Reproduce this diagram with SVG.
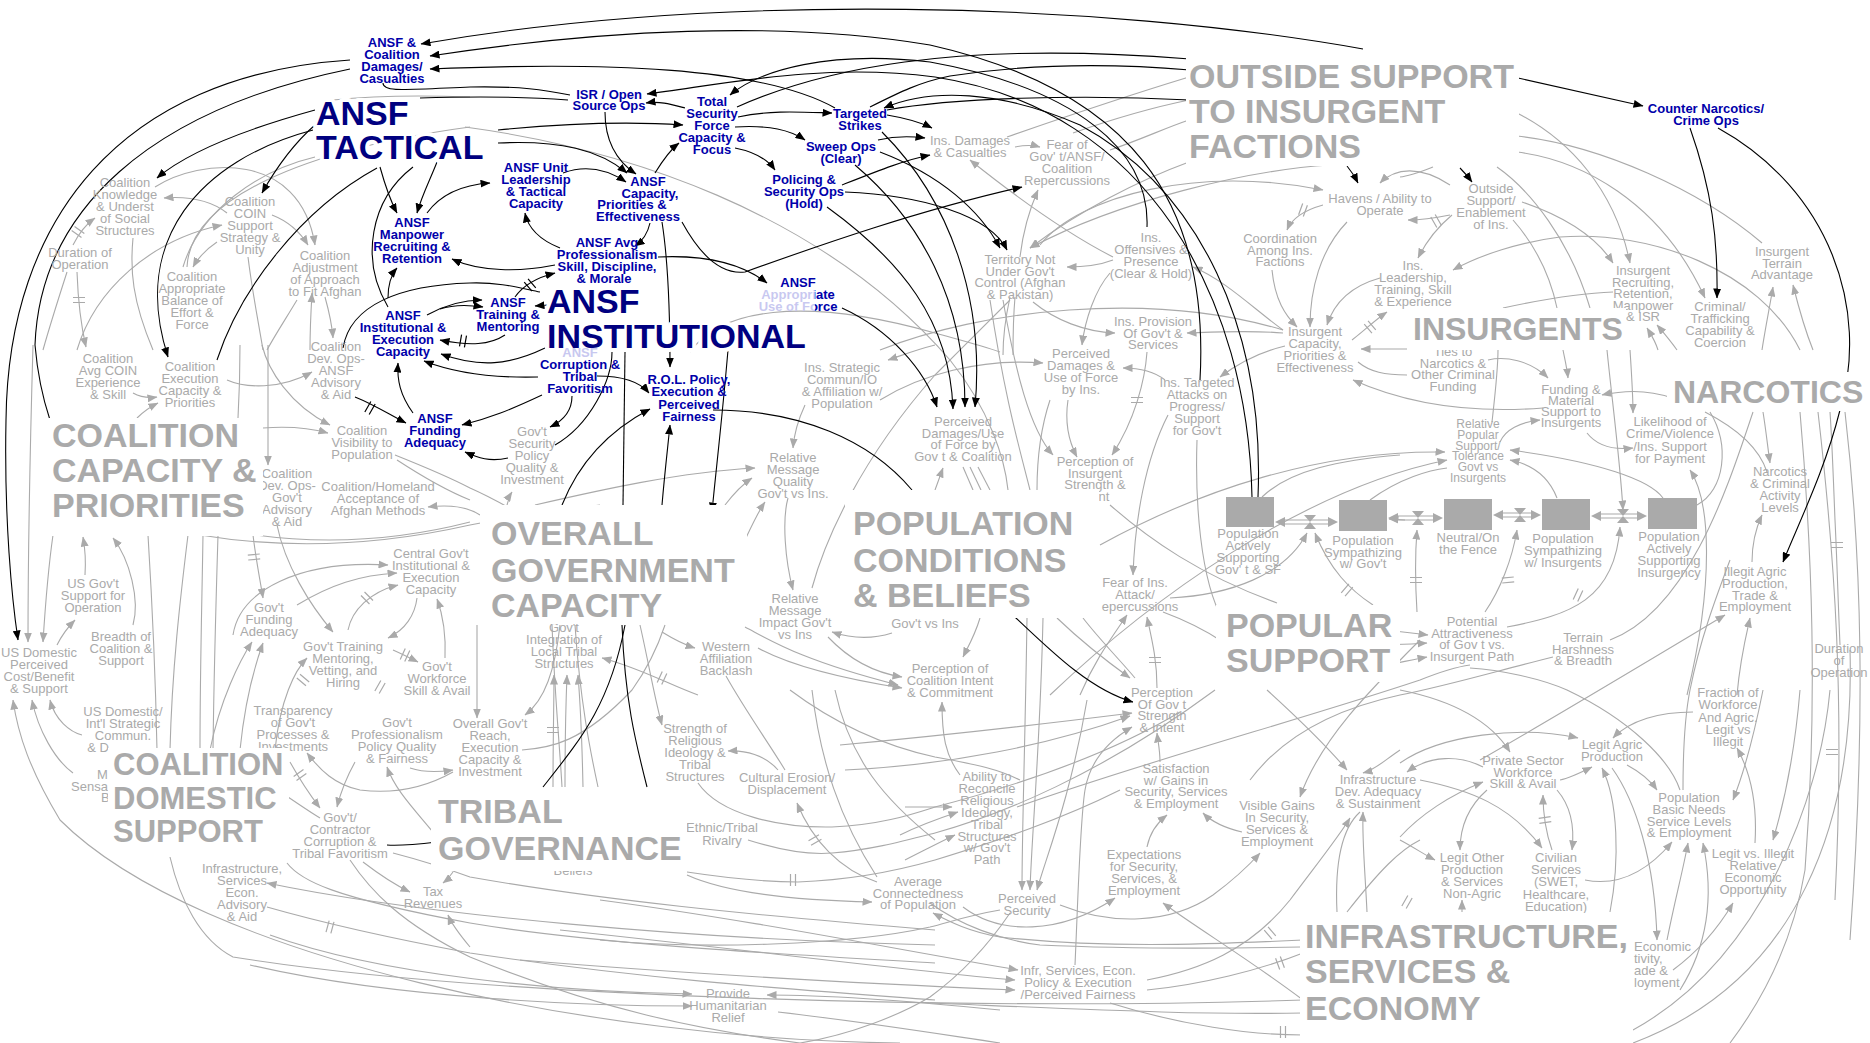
<svg xmlns="http://www.w3.org/2000/svg" width="1870" height="1043" viewBox="0 0 1870 1043">
<style>
.k{fill:none;stroke:#000;stroke-width:1.1}
.s{fill:none;stroke:#aaa;stroke-width:1.1}
.ka{marker-end:url(#ak)}
.ga{marker-end:url(#ag)}
.h{fill:none;stroke:#aaa;stroke-width:1.2}
.hk{fill:none;stroke:#000;stroke-width:1.2}
text.b{font-family:"Liberation Sans",Arial,sans-serif;font-weight:bold;font-size:13px;fill:#0000aa;text-anchor:middle}
text.g{font-family:"Liberation Sans",Arial,sans-serif;font-size:13px;fill:#aaa;text-anchor:middle}
text.gs{font-family:"Liberation Sans",Arial,sans-serif;font-size:13px;fill:#aaa;text-anchor:start}
text.tb{font-family:"Liberation Sans",Arial,sans-serif;font-weight:bold;font-size:34px;fill:#000080;stroke:#fff;stroke-width:8;stroke-linejoin:round;paint-order:stroke}
text.tg{font-family:"Liberation Sans",Arial,sans-serif;font-weight:bold;font-size:34px;fill:#aaa}
.box{fill:#fff}
.stock{fill:#aaa}
.pipe{fill:none;stroke:#aaa;stroke-width:1.1}
.tri{fill:#aaa}
</style>
<defs>
<marker id="ak" viewBox="0 0 10 8" refX="9.5" refY="4" markerWidth="10" markerHeight="8" markerUnits="userSpaceOnUse" orient="auto"><path d="M0,0 L10,4 L0,8 z" fill="#000"/></marker>
<marker id="ag" viewBox="0 0 10 8" refX="9.5" refY="4" markerWidth="10" markerHeight="8" markerUnits="userSpaceOnUse" orient="auto"><path d="M0,0 L10,4 L0,8 z" fill="#aaa"/></marker>
<path id="hs" d="M-2.5,-6 L-2.5,6 M2.5,-6 L2.5,6"/>
<linearGradient id="fade" gradientUnits="userSpaceOnUse" x1="760" y1="0" x2="840" y2="0">
<stop offset="0" stop-color="#c8c8f0"/><stop offset="0.68" stop-color="#c8c8f0"/><stop offset="0.69" stop-color="#0000aa"/><stop offset="1" stop-color="#0000aa"/>
</linearGradient>
</defs>
<rect width="1870" height="1043" fill="#fff"/>

<g id="connectors">
<path class="s ga" d="M227,213 C210,200 190,196 164,198"/>
<path class="s ga" d="M73,245 C78,235 85,225 95,218"/>
<path class="s ga" d="M77,272 C78,300 82,330 86,347"/>
<path class="s ga" d="M155,187 C200,158 300,150 315,245"/>
<path class="s ga" d="M272,215 C290,222 300,232 308,245"/>
<path class="s ga" d="M217,242 C205,250 198,258 193,267"/>
<path class="s ga" d="M77,350 C95,290 150,240 222,225"/>
<path class="s" d="M133,238 C130,270 132,300 153,350"/>
<path class="s" d="M248,257 C252,290 258,320 263,350"/>
<path class="s" d="M187,267 C190,200 300,150 470,127"/>
<path class="s" d="M315,157 C260,170 200,210 183,267"/>
<path class="s ga" d="M325,297 C330,315 332,325 333,338"/>
<path class="s ga" d="M310,350 C310,330 311,310 312,293"/>
<path class="s" d="M297,300 C285,320 275,335 267,350"/>
<path class="s" d="M333,100 C380,95 420,95 470,97"/>
<path class="s" d="M67,272 C58,300 50,325 43,350"/>
<path class="s" d="M465,127 C620,148 820,210 950,360 C990,410 1005,460 1008,490"/>
<path class="s" d="M690,352 C720,310 800,295 935,333 C960,340 980,345 1000,352"/>
<path class="s ga" d="M133,393 C142,398 150,398 157,397"/>
<path class="s ga" d="M137,418 C143,412 150,407 158,403"/>
<path class="s ga" d="M227,380 C245,388 280,390 312,372"/>
<path class="s ga" d="M263,428 C290,426 310,428 328,433"/>
<path class="s ga" d="M262,345 C268,370 290,405 330,425"/>
<path class="s ga" d="M268,345 L268,465"/>
<path class="s" d="M395,455 C420,465 445,475 470,488 C520,510 560,540 600,560"/>
<path class="s" d="M397,460 C420,475 445,490 470,500"/>
<path class="s ga" d="M480,515 C465,505 445,505 428,507"/>
<path class="s ga" d="M277,525 C285,565 310,605 333,632"/>
<path class="s ga" d="M253,535 C256,560 260,580 263,598"/>
<path class="s ga" d="M297,605 C330,585 360,575 397,573"/>
<path class="s ga" d="M233,635 C240,590 300,560 388,565"/>
<path class="s ga" d="M348,630 C352,610 370,592 398,585"/>
<path class="s ga" d="M417,598 C415,615 405,630 388,638"/>
<path class="s ga" d="M445,658 C446,635 443,615 437,599"/>
<path class="s ga" d="M393,650 C402,654 410,658 418,662"/>
<path class="s" d="M200,535 C260,545 350,552 470,525 C520,515 560,510 600,505"/>
<path class="s" d="M255,535 C330,545 400,540 470,522"/>
<path class="s ga" d="M85,575 C86,560 85,548 83,537"/>
<path class="s ga" d="M133,625 C140,600 130,560 113,538"/>
<path class="s ga" d="M57,645 C62,635 68,627 75,620"/>
<path class="s ga" d="M53,535 C48,570 45,610 43,642"/>
<path class="s ga" d="M33,345 C30,450 28,560 28,642"/>
<path class="s" d="M148,535 C152,600 155,650 157,750"/>
<path class="s" d="M188,535 C180,600 172,670 170,750"/>
<path class="s" d="M203,535 C202,600 200,670 200,750"/>
<path class="s" d="M218,535 C216,600 214,670 213,750"/>
<path class="s" d="M240,345 C240,380 239,400 238,418"/>
<path class="s ga" d="M210,750 C220,700 240,660 252,642"/>
<path class="s ga" d="M240,750 C245,700 255,665 263,643"/>
<path class="s ga" d="M275,750 C280,700 295,670 307,658"/>
<path class="s ga" d="M82,735 C70,732 55,720 50,700"/>
<path class="s ga" d="M73,773 C55,760 38,730 32,700"/>
<path class="s ga" d="M900,1043 C600,1040 200,960 60,820 C30,770 18,735 13,700"/>
<path class="s" d="M1303,1000 C1000,1010 500,1000 233,957 C200,940 180,900 170,857"/>
<path class="s ga" d="M453,772 C430,785 400,795 360,790 C335,785 320,770 307,753"/>
<path class="s ga" d="M410,768 C425,773 440,772 453,770"/>
<path class="s ga" d="M355,762 C345,780 340,795 337,807"/>
<path class="s ga" d="M290,762 C300,780 310,795 320,808"/>
<path class="s ga" d="M437,837 C415,810 395,790 387,767"/>
<path class="s ga" d="M363,862 C380,875 395,885 410,892"/>
<path class="s ga" d="M470,947 C460,935 452,925 448,915"/>
<path class="s ga" d="M453,872 C450,876 447,880 443,883"/>
<path class="s" d="M393,853 C420,860 445,868 470,877 C600,900 750,915 935,930"/>
<path class="s ga" d="M935,945 C700,940 420,915 267,883"/>
<path class="s" d="M267,907 C330,925 400,940 470,953 C650,980 800,990 935,1000"/>
<path class="s" d="M350,860 C370,890 400,923 470,957 C600,1010 700,1030 800,1043"/>
<path class="s" d="M287,863 C300,880 330,897 470,923 C600,945 800,955 935,963"/>
<path class="s" d="M288,797 C300,805 310,812 320,818"/>
<path class="s ga" d="M477,625 C477,660 477,690 477,718"/>
<path class="s ga" d="M560,625 C555,670 545,700 525,715"/>
<path class="s" d="M522,750 C550,748 582,743 632,690 C650,665 660,640 665,625"/>
<path class="s ga" d="M778,770 C765,755 745,750 728,751"/>
<path class="s" d="M698,783 C720,815 780,828 832,827 C880,825 910,815 935,807 C1000,790 1100,760 1180,712"/>
<path class="s ga" d="M877,882 C840,870 812,840 797,803"/>
<path class="s" d="M748,840 C780,850 810,855 832,853 C870,850 900,842 935,833 C1000,815 1100,775 1215,690"/>
<path class="s" d="M687,872 C740,880 780,882 798,882 C850,880 900,870 935,860 C1000,840 1060,820 1120,790"/>
<path class="s ga" d="M687,875 C720,890 780,900 872,902"/>
<path class="s ga" d="M640,625 C648,660 655,700 662,725"/>
<path class="s" d="M726,676 C745,710 770,745 785,770"/>
<path class="s ga" d="M270,935 C380,975 560,992 692,994"/>
<path class="s ga" d="M250,965 C400,1000 600,1006 692,1006"/>
<path class="s ga" d="M1000,1010 C900,1000 820,995 767,995"/>
<path class="s" d="M778,1012 C850,1020 900,1028 1000,1043"/>
<path class="s ga" d="M840,745 C950,735 1060,722 1132,713"/>
<path class="s ga" d="M845,770 C950,765 1050,745 1130,716"/>
<path class="s ga" d="M1160,762 C1160,750 1158,742 1157,733"/>
<path class="s ga" d="M1147,847 C1150,832 1158,822 1167,815"/>
<path class="s ga" d="M1242,832 C1225,828 1212,822 1203,813"/>
<path class="s ga" d="M1420,640 C1370,690 1320,740 1300,797"/>
<path class="s ga" d="M1060,905 C1110,925 1170,925 1213,895 C1240,875 1252,862 1260,853"/>
<path class="s ga" d="M963,907 C1000,935 1060,935 1115,898"/>
<path class="s ga" d="M905,807 C920,807 940,807 952,807"/>
<path class="s ga" d="M900,835 C920,825 940,818 958,812"/>
<path class="s ga" d="M905,860 C925,850 940,842 955,835"/>
<path class="s ga" d="M960,775 C945,755 942,735 942,702"/>
<path class="s" d="M1017,807 C1150,760 1300,720 1420,680 C1440,672 1455,667 1470,665"/>
<path class="s ga" d="M1027,618 C1025,750 1022,830 1022,890"/>
<path class="s ga" d="M1043,618 C1040,750 1032,830 1030,890"/>
<path class="s ga" d="M1087,700 C1070,800 1045,860 1037,890"/>
<path class="s" d="M1010,913 C985,950 960,975 930,997 C900,1015 850,1035 800,1043"/>
<path class="s" d="M1000,910 C970,915 950,922 930,927 C850,945 700,950 600,940"/>
<path class="s ga" d="M600,900 C750,920 900,950 1018,970"/>
<path class="s ga" d="M560,930 C750,950 900,970 1015,980"/>
<path class="s ga" d="M520,960 C700,975 900,985 1015,990"/>
<path class="s ga" d="M1075,965 C1078,900 1080,820 1085,790 C1090,760 1110,740 1132,727"/>
<path class="s ga" d="M1147,980 C1200,970 1250,950 1290,900 C1320,860 1340,835 1350,818"/>
<path class="s" d="M1147,990 C1200,985 1260,970 1303,953"/>
<path class="s ga" d="M1303,1000 C1250,960 1200,930 1163,903"/>
<path class="s" d="M930,903 C960,925 1000,940 1040,945 C1150,950 1250,948 1303,947"/>
<path class="s ga" d="M1303,940 C1200,945 1100,948 1000,937 C970,932 950,922 933,913"/>
<path class="s" d="M930,1003 C1100,1010 1200,1015 1303,1013"/>
<path class="s" d="M1110,1003 C1180,1025 1250,1035 1303,1035"/>
<path class="s" d="M1337,912 C1335,870 1340,830 1360,812"/>
<path class="s" d="M1347,912 C1380,870 1400,850 1420,840"/>
<path class="s ga" d="M1367,912 C1365,870 1362,840 1363,812"/>
<path class="s ga" d="M1267,690 C1300,720 1330,750 1347,770"/>
<path class="s ga" d="M1400,750 C1385,760 1375,770 1363,773"/>
<path class="s ga" d="M1400,690 C1450,700 1490,720 1510,752"/>
<path class="s ga" d="M1483,767 C1460,755 1430,755 1407,772"/>
<path class="s ga" d="M1400,837 C1420,815 1450,795 1483,782"/>
<path class="s ga" d="M1560,780 C1570,778 1582,772 1592,767"/>
<path class="s ga" d="M1487,790 C1470,805 1460,825 1460,850"/>
<path class="s ga" d="M1557,790 C1570,805 1575,825 1572,850"/>
<path class="s ga" d="M1552,850 C1545,830 1543,810 1543,795"/>
<path class="s ga" d="M1420,780 C1470,790 1510,805 1542,848"/>
<path class="s ga" d="M1400,840 C1415,848 1425,855 1435,860"/>
<path class="s ga" d="M1585,880 C1610,885 1640,880 1672,842"/>
<path class="s ga" d="M1627,765 C1640,772 1650,780 1657,790"/>
<path class="s ga" d="M1693,712 C1660,712 1630,720 1613,738"/>
<path class="s ga" d="M1763,690 C1755,730 1745,770 1733,800"/>
<path class="s ga" d="M1755,843 C1757,810 1752,775 1737,748"/>
<path class="s ga" d="M1667,940 C1675,900 1683,870 1688,843"/>
<path class="s ga" d="M1680,990 C1705,950 1715,900 1703,843"/>
<path class="s ga" d="M1612,768 C1635,800 1655,860 1657,940"/>
<path class="s ga" d="M1673,970 C1700,950 1720,925 1733,903"/>
<path class="s ga" d="M1610,912 C1620,860 1618,800 1602,768"/>
<path class="s ga" d="M1400,763 C1440,735 1520,725 1578,738"/>
<path class="s" d="M1680,790 C1670,760 1630,720 1567,690 C1540,678 1500,670 1470,668"/>
<path class="s" d="M1683,790 C1683,760 1684,720 1690,690 C1700,640 1715,600 1730,560"/>
<path class="s ga" d="M1800,690 C1795,750 1785,800 1773,840"/>
<path class="s" d="M1830,690 C1820,800 1760,960 1633,1030"/>
<path class="s" d="M1850,650 C1855,820 1800,980 1633,1043"/>
<path class="s" d="M1800,412 C1812,550 1818,700 1805,870 C1795,930 1770,990 1730,1043"/>
<path class="s" d="M1818,412 C1835,560 1845,700 1835,900"/>
<path class="s" d="M1845,412 C1862,560 1866,720 1850,940"/>
<path class="s ga" d="M1462,912 L1462,900"/>
<path class="s ga" d="M1488,360 C1505,356 1530,360 1548,378"/>
<path class="s ga" d="M1563,350 C1565,360 1567,368 1568,378"/>
<path class="s ga" d="M1672,398 C1650,390 1625,390 1602,395"/>
<path class="s ga" d="M1587,433 C1598,447 1615,450 1633,448"/>
<path class="s ga" d="M1500,442 C1505,430 1520,422 1540,420"/>
<path class="s ga" d="M1630,350 C1632,380 1633,400 1633,413"/>
<path class="s ga" d="M1607,350 C1612,400 1620,460 1623,510"/>
<path class="s ga" d="M1663,498 C1650,480 1600,462 1510,450"/>
<path class="s ga" d="M1557,498 C1550,480 1535,465 1510,460"/>
<path class="s ga" d="M1100,545 C1200,490 1320,450 1445,452"/>
<path class="s ga" d="M1050,695 C1150,600 1300,490 1447,460"/>
<path class="s" d="M1492,422 C1495,395 1498,370 1498,350"/>
<path class="s ga" d="M1543,408 C1490,412 1420,410 1353,380"/>
<path class="s" d="M1697,505 C1725,490 1730,445 1710,412"/>
<path class="s" d="M1610,640 C1690,610 1730,480 1753,412"/>
<path class="s ga" d="M1687,695 C1715,580 1710,500 1690,470"/>
<path class="s" d="M1553,657 C1500,670 1450,685 1400,695 C1330,710 1280,740 1250,780"/>
<path class="s ga" d="M1480,760 C1550,720 1650,660 1725,615"/>
<path class="s ga" d="M1737,695 C1740,660 1745,640 1750,618"/>
<path class="s ga" d="M1752,562 C1752,545 1755,530 1762,515"/>
<path class="s ga" d="M1763,412 C1766,430 1768,450 1770,463"/>
<path class="s" d="M1705,412 C1740,430 1760,450 1767,472"/>
<path class="s" d="M1840,645 C1838,600 1837,560 1835,520 C1833,470 1832,440 1830,412"/>
<path class="s ga" d="M1417,612 C1415,580 1415,555 1417,530"/>
<path class="s ga" d="M1485,612 C1500,590 1512,560 1517,530"/>
<path class="s ga" d="M1507,627 C1570,615 1615,600 1620,527"/>
<path class="s ga" d="M1360,628 C1390,630 1410,633 1428,635"/>
<path class="s ga" d="M1360,645 C1395,645 1412,644 1427,643"/>
<path class="s ga" d="M1360,670 C1390,665 1410,660 1427,657"/>
<path class="s ga" d="M935,490 C938,482 940,476 943,468"/>
<path class="s" d="M963,467 L973,490"/>
<path class="s" d="M970,467 L981,490"/>
<path class="s" d="M978,467 L990,490"/>
<path class="s ga" d="M880,400 C920,375 980,358 1043,363"/>
<path class="s ga" d="M1165,380 C1155,372 1140,368 1123,368"/>
<path class="s ga" d="M1068,400 C1065,420 1068,440 1077,457"/>
<path class="s" d="M1050,400 C1040,430 1037,460 1037,490"/>
<path class="s ga" d="M1147,352 C1145,380 1135,420 1112,455"/>
<path class="s ga" d="M1003,300 C1015,370 1030,430 1053,455"/>
<path class="s" d="M990,300 C1005,400 1020,450 1030,490"/>
<path class="s ga" d="M1168,415 C1145,460 1135,520 1133,575"/>
<path class="s" d="M1197,440 C1195,500 1200,580 1223,620"/>
<path class="s ga" d="M1285,346 C1260,352 1240,362 1220,377"/>
<path class="s ga" d="M1407,349 L1361,349"/>
<path class="s" d="M1358,362 C1370,372 1385,375 1407,375"/>
<path class="s" d="M1110,505 C1150,540 1200,575 1277,603"/>
<path class="s ga" d="M1170,598 C1230,595 1285,575 1307,533"/>
<path class="s ga" d="M1373,605 C1350,590 1330,570 1315,533"/>
<path class="s" d="M1163,612 C1190,622 1205,630 1223,642"/>
<path class="s ga" d="M1157,688 C1157,660 1152,640 1147,617"/>
<path class="s ga" d="M1057,618 C1080,640 1105,660 1130,678"/>
<path class="s" d="M1083,618 C1100,640 1120,660 1135,678"/>
<path class="s ga" d="M1080,695 C1095,660 1110,640 1127,615"/>
<path class="s ga" d="M980,618 C975,635 968,647 963,657"/>
<path class="s" d="M1262,497 C1290,470 1340,460 1400,455"/>
<path class="s" d="M1370,500 C1400,478 1430,470 1447,468"/>
<path class="s ga" d="M1405,520 L1389,519"/>
<path class="s ga" d="M535,505 C600,490 680,472 755,468"/>
<path class="s ga" d="M507,505 C509,498 510,495 512,492"/>
<path class="s ga" d="M725,505 C735,492 743,484 752,478"/>
<path class="s ga" d="M745,540 C752,525 758,512 765,502"/>
<path class="s ga" d="M805,405 C798,420 794,435 793,448"/>
<path class="s ga" d="M788,498 C782,520 785,560 793,590"/>
<path class="s" d="M812,588 C825,540 860,460 935,375 C960,350 990,320 1010,300"/>
<path class="s ga" d="M935,345 C915,350 900,356 888,360"/>
<path class="s ga" d="M892,633 C870,640 850,638 832,632"/>
<path class="s ga" d="M662,632 C675,640 685,645 695,648"/>
<path class="s ga" d="M698,695 C670,685 640,668 602,658"/>
<path class="s ga" d="M745,627 C770,640 800,660 898,685"/>
<path class="s ga" d="M828,637 C845,655 870,672 902,677"/>
<path class="s ga" d="M758,648 C780,660 820,675 902,688"/>
<path class="s ga" d="M553,787 C553,740 554,700 554,675"/>
<path class="s ga" d="M565,787 C565,740 566,700 567,675"/>
<path class="s ga" d="M583,787 C582,740 580,700 578,675"/>
<path class="s" d="M552,625 C555,700 560,750 562,787"/>
<path class="s" d="M575,625 C580,700 590,750 598,787"/>
<path class="s" d="M812,690 C820,760 840,820 877,877"/>
<path class="s" d="M835,690 C850,760 885,800 935,840"/>
<path class="s" d="M790,690 C830,720 880,745 935,757 C980,765 1000,770 1020,780"/>
<path class="s" d="M1007,137 C1070,115 1130,95 1189,77"/>
<path class="s" d="M1073,133 C1110,120 1150,108 1189,100"/>
<path class="s" d="M1110,150 C1140,140 1165,128 1189,120"/>
<path class="s ga" d="M1015,147 C1025,145 1033,145 1040,147"/>
<path class="s ga" d="M1113,257 C1070,235 1020,200 970,160"/>
<path class="s ga" d="M1020,257 C1022,240 1027,215 1038,190"/>
<path class="s ga" d="M1113,260 C1100,265 1085,267 1067,267"/>
<path class="s ga" d="M1330,165 C1250,170 1120,200 1030,248"/>
<path class="s ga" d="M1189,162 C1140,180 1080,210 1030,248"/>
<path class="s ga" d="M1040,245 C1080,195 1200,165 1323,190"/>
<path class="s ga" d="M1450,185 C1420,165 1395,168 1380,183"/>
<path class="s ga" d="M1323,205 C1305,210 1292,218 1287,230"/>
<path class="s ga" d="M1347,222 C1320,250 1310,290 1310,327"/>
<path class="s ga" d="M1272,270 C1275,300 1285,315 1297,327"/>
<path class="s ga" d="M1380,278 C1355,285 1335,300 1327,325"/>
<path class="s ga" d="M1352,340 C1365,330 1375,320 1387,312"/>
<path class="s ga" d="M1283,330 C1255,310 1225,280 1193,267"/>
<path class="s ga" d="M1283,333 C1250,330 1215,332 1187,333"/>
<path class="s ga" d="M1033,302 C1055,320 1085,332 1115,333"/>
<path class="s ga" d="M1110,273 C1095,290 1085,320 1082,345"/>
<path class="s" d="M1010,297 C1005,320 1003,340 1003,355"/>
<path class="s" d="M1015,297 C1013,320 1013,340 1013,355"/>
<path class="s" d="M880,350 C980,310 1150,290 1283,330"/>
<path class="s ga" d="M1452,215 C1440,225 1427,240 1418,258"/>
<path class="s ga" d="M1450,215 C1435,218 1420,220 1408,220"/>
<path class="s ga" d="M1522,202 C1560,215 1595,235 1613,263"/>
<path class="s ga" d="M1517,113 C1570,140 1615,190 1630,263"/>
<path class="s ga" d="M1517,152 C1580,160 1660,200 1705,298"/>
<path class="s" d="M1517,136 C1600,145 1700,190 1762,243"/>
<path class="s" d="M1513,220 C1535,245 1550,275 1557,308"/>
<path class="s" d="M1497,167 C1530,190 1570,240 1590,308"/>
<path class="s ga" d="M1800,350 C1760,270 1650,230 1560,237 C1520,242 1480,255 1453,270"/>
<path class="s" d="M1503,308 C1540,300 1580,293 1613,292"/>
<path class="s ga" d="M1658,350 C1655,340 1650,333 1647,328"/>
<path class="s ga" d="M1677,350 C1670,340 1663,332 1657,325"/>
<path class="s ga" d="M1762,350 C1765,330 1770,305 1773,287"/>
<path class="s ga" d="M1813,350 C1805,330 1798,305 1793,285"/>
<path class="s" d="M1433,167 C1420,172 1410,176 1400,177"/>
<use href="#hs" class="h" transform="translate(78,232) rotate(-55)"/>
<use href="#hs" class="h" transform="translate(79,300) rotate(90)"/>
<use href="#hs" class="h" transform="translate(254,557) rotate(85)"/>
<use href="#hs" class="h" transform="translate(367,598) rotate(-45)"/>
<use href="#hs" class="h" transform="translate(405,655) rotate(25)"/>
<use href="#hs" class="h" transform="translate(300,775) rotate(55)"/>
<use href="#hs" class="h" transform="translate(303,680) rotate(-50)"/>
<use href="#hs" class="h" transform="translate(380,687) rotate(30)"/>
<use href="#hs" class="h" transform="translate(330,927) rotate(15)"/>
<use href="#hs" class="h" transform="translate(553,730) rotate(90)"/>
<use href="#hs" class="h" transform="translate(815,840) rotate(60)"/>
<use href="#hs" class="h" transform="translate(793,880) rotate(0)"/>
<use href="#hs" class="h" transform="translate(662,678) rotate(25)"/>
<use href="#hs" class="h" transform="translate(1137,400) rotate(90)"/>
<use href="#hs" class="h" transform="translate(1155,660) rotate(90)"/>
<use href="#hs" class="h" transform="translate(1347,590) rotate(40)"/>
<use href="#hs" class="h" transform="translate(1303,210) rotate(20)"/>
<use href="#hs" class="h" transform="translate(1370,327) rotate(-40)"/>
<use href="#hs" class="h" transform="translate(1436,221) rotate(-30)"/>
<use href="#hs" class="h" transform="translate(1416,580) rotate(90)"/>
<use href="#hs" class="h" transform="translate(1508,580) rotate(85)"/>
<use href="#hs" class="h" transform="translate(1578,595) rotate(25)"/>
<use href="#hs" class="h" transform="translate(1837,545) rotate(90)"/>
<use href="#hs" class="h" transform="translate(1545,820) rotate(82)"/>
<use href="#hs" class="h" transform="translate(1407,902) rotate(30)"/>
<use href="#hs" class="h" transform="translate(1832,752) rotate(90)"/>
<use href="#hs" class="h" transform="translate(1270,933) rotate(-40)"/>
<use href="#hs" class="h" transform="translate(1280,963) rotate(-20)"/>
<use href="#hs" class="h" transform="translate(1283,1032) rotate(0)"/>
<path class="k ka" d="M1363,49 C1100,2 720,-8 421,44"/>
<path class="k ka" d="M1200,380 C1210,200 1130,90 930,45 C780,20 600,30 430,56"/>
<path class="k ka" d="M835,108 C760,66 600,62 430,69"/>
<path class="k ka" d="M1252,497 C1248,300 1150,110 935,77 C820,62 720,85 647,94"/>
<path class="k ka" d="M1258,497 C1265,330 1200,190 1080,125 C1000,90 930,88 884,108"/>
<path class="k ka" d="M1147,227 C1150,150 1075,88 930,62 C830,50 760,70 730,95"/>
<path class="k" d="M737,107 C820,70 950,40 1190,59"/>
<path class="k" d="M870,107 C900,92 920,82 950,76 C1040,62 1120,64 1190,70"/>
<path class="k" d="M887,110 C950,98 1080,94 1190,100"/>
<path class="k ka" d="M882,132 C950,200 985,300 975,407"/>
<path class="k ka" d="M855,165 C920,220 965,300 965,407"/>
<path class="k ka" d="M827,207 C900,260 950,320 953,409"/>
<path class="k ka" d="M842,308 C890,330 925,370 937,407"/>
<path class="k ka" d="M880,152 C940,175 980,210 1000,248"/>
<path class="k ka" d="M845,192 C920,195 990,215 1007,250"/>
<path class="k ka" d="M842,185 C880,170 905,160 930,155"/>
<path class="k ka" d="M887,115 C905,118 920,122 932,128"/>
<path class="k ka" d="M878,140 C895,136 910,136 925,138"/>
<path class="k ka" d="M682,222 C700,255 720,275 745,272 C820,245 920,210 1022,187"/>
<path class="k ka" d="M662,222 C668,260 670,320 670,367"/>
<path class="k ka" d="M650,223 C648,232 644,240 635,246"/>
<path class="k ka" d="M658,257 C700,255 740,262 767,283"/>
<path class="k ka" d="M560,248 C540,240 528,228 525,213"/>
<path class="k ka" d="M515,297 C522,287 535,278 555,273"/>
<path class="k ka" d="M548,305 L535,306"/>
<path class="k ka" d="M427,315 C445,305 465,300 482,300"/>
<path class="k ka" d="M440,309 C455,304 470,305 483,307"/>
<path class="k ka" d="M505,335 C490,345 470,346 440,340"/>
<path class="k ka" d="M413,413 C400,395 397,380 398,363"/>
<path class="k ka" d="M355,397 C375,405 390,415 406,423"/>
<path class="k ka" d="M542,395 C510,410 490,418 462,425"/>
<path class="k ka" d="M508,458 C490,462 478,458 465,452"/>
<path class="k ka" d="M545,348 C510,365 480,368 441,354"/>
<path class="k ka" d="M538,377 C500,378 460,375 424,361"/>
<path class="k ka" d="M597,376 C625,376 640,382 649,393"/>
<path class="k ka" d="M572,396 C572,410 565,420 550,427"/>
<path class="k ka" d="M562,505 C580,460 610,430 650,409"/>
<path class="k ka" d="M662,505 C665,470 668,445 670,425"/>
<path class="k" d="M623,505 L625,352"/>
<path class="k" d="M555,445 C590,425 612,380 612,352"/>
<path class="k ka" d="M728,350 C722,420 716,470 712,512"/>
<path class="k" d="M713,410 C800,410 870,440 912,490"/>
<path class="k ka" d="M1015,617 C1050,650 1090,690 1133,702"/>
<path class="k" d="M437,842 C420,844 400,846 387,845"/>
<path class="k" d="M543,787 C580,740 610,705 625,625"/>
<path class="k" d="M647,787 C635,740 625,700 622,625"/>
<path class="k ka" d="M315,110 C250,128 190,150 157,178"/>
<path class="k ka" d="M315,125 C292,145 275,170 262,193"/>
<path class="k ka" d="M313,130 C200,160 130,240 168,357"/>
<path class="k" d="M377,168 C300,210 240,290 217,360"/>
<path class="k ka" d="M380,167 C385,185 390,200 397,213"/>
<path class="k ka" d="M437,162 C430,180 422,195 417,213"/>
<path class="k ka" d="M427,213 C440,195 460,185 490,183"/>
<path class="k ka" d="M388,298 C388,285 391,275 397,268"/>
<path class="k" d="M388,307 C360,260 370,200 413,167"/>
<path class="k ka" d="M555,265 C520,272 480,272 452,259"/>
<path class="k ka" d="M350,60 C120,75 8,220 6,420 C4,520 12,600 18,640"/>
<path class="k" d="M350,69 C150,110 40,210 35,345 C38,380 45,405 50,420"/>
<path class="k ka" d="M498,143 C560,140 600,150 627,173"/>
<path class="k ka" d="M498,130 C580,122 640,122 683,125"/>
<path class="k ka" d="M605,112 C605,140 615,160 636,174"/>
<path class="k ka" d="M563,173 C585,165 605,168 626,182"/>
<path class="k ka" d="M655,173 C663,160 670,150 679,143"/>
<path class="k ka" d="M738,117 C770,110 800,112 832,113"/>
<path class="k ka" d="M735,127 C770,125 790,130 805,140"/>
<path class="k ka" d="M735,148 C755,152 768,160 775,170"/>
<path class="k ka" d="M685,108 C670,104 660,101 646,103"/>
<path class="k" d="M383,83 C383,92 400,90 470,87 C520,86 545,90 570,95"/>
<path class="k" d="M420,98 C480,96 530,97 568,100"/>
<path class="k ka" d="M1518,78 L1643,106"/>
<path class="k ka" d="M1690,128 C1712,190 1718,240 1717,298"/>
<path class="k ka" d="M1718,128 C1830,190 1870,310 1840,410 C1825,470 1800,520 1783,562"/>
<path class="k" d="M343,348 C350,305 400,285 470,283 C500,282 520,288 540,292"/>
<path class="k ka" d="M1347,166 C1352,172 1355,177 1358,183"/>
<path class="k ka" d="M1460,168 C1465,173 1469,178 1472,182"/>
<use href="#hs" class="hk" transform="translate(370,408) rotate(30)"/>
<use href="#hs" class="hk" transform="translate(463,341) rotate(10)"/>
<use href="#hs" class="hk" transform="translate(530,285) rotate(-40)"/>
</g>

<g id="stocks">
<g id="s-pop-support-gov"><rect class="stock" x="1226" y="497" width="48" height="30"/></g>
<g id="s-pop-symp-gov"><rect class="stock" x="1339" y="500" width="48" height="31"/></g>
<g id="s-neutral"><rect class="stock" x="1444" y="499" width="48" height="31"/></g>
<g id="s-pop-symp-ins"><rect class="stock" x="1542" y="499" width="48" height="31"/></g>
<g id="s-pop-support-ins"><rect class="stock" x="1648" y="498" width="49" height="31"/></g>
<g id="flows">
<path class="pipe" d="M1284,520 L1329,520 M1284,524 L1329,524"/>
<path class="tri" d="M1275,522 L1285,517 L1285,527 Z M1338,522 L1328,517 L1328,527 Z"/>
<path class="tri" d="M1304,515 L1316,515 L1310,522 Z M1304,529 L1316,529 L1310,522 Z"/>
<path class="pipe" d="M1397,516 L1434,516 M1397,520 L1434,520"/>
<path class="tri" d="M1388,518 L1398,513 L1398,523 Z M1443,518 L1433,513 L1433,523 Z"/>
<path class="tri" d="M1412,511 L1424,511 L1418,518 Z M1412,525 L1424,525 L1418,518 Z"/>
<path class="pipe" d="M1502,513 L1532,513 M1502,517 L1532,517"/>
<path class="tri" d="M1493,515 L1503,510 L1503,520 Z M1541,515 L1531,510 L1531,520 Z"/>
<path class="tri" d="M1514,508 L1526,508 L1520,515 Z M1514,522 L1526,522 L1520,515 Z"/>
<path class="pipe" d="M1600,514 L1638,514 M1600,518 L1638,518"/>
<path class="tri" d="M1591,516 L1601,511 L1601,521 Z M1647,516 L1637,511 L1637,521 Z"/>
<path class="tri" d="M1617,509 L1629,509 L1623,516 Z M1617,523 L1629,523 L1623,516 Z"/>
</g>
</g>

<g id="t-ansf-tactical"><text class="tb" x="316" y="125">ANSF</text><text class="tb" x="316" y="159">TACTICAL</text></g>
<g id="t-ansf-institutional"><text class="tb" x="547" y="313">ANSF</text><text class="tb" x="547" y="348">INSTITUTIONAL</text></g>

<g id="n-ansf-damages"><text class="b" x="392" y="47"><tspan x="392">ANSF &amp;</tspan><tspan x="392" dy="12">Coalition</tspan><tspan x="392" dy="12">Damages/</tspan><tspan x="392" dy="12">Casualties</tspan></text></g>
<g id="n-isr"><text class="b" x="609" y="99"><tspan x="609">ISR / Open</tspan><tspan x="609" dy="11">Source Ops</tspan></text></g>
<g id="n-total-security"><text class="b" x="712" y="106"><tspan x="712">Total</tspan><tspan x="712" dy="12">Security</tspan><tspan x="712" dy="12">Force</tspan><tspan x="712" dy="12">Capacity &amp;</tspan><tspan x="712" dy="12">Focus</tspan></text></g>
<g id="n-targeted"><text class="b" x="860" y="118"><tspan x="860">Targeted</tspan><tspan x="860" dy="12">Strikes</tspan></text></g>
<g id="n-sweep"><text class="b" x="841" y="151"><tspan x="841">Sweep Ops</tspan><tspan x="841" dy="12">(Clear)</tspan></text></g>
<g id="n-policing"><text class="b" x="804" y="184"><tspan x="804">Policing &amp;</tspan><tspan x="804" dy="12">Security Ops</tspan><tspan x="804" dy="12">(Hold)</tspan></text></g>
<g id="n-unit-leadership"><text class="b" x="536" y="172"><tspan x="536">ANSF Unit</tspan><tspan x="536" dy="12">Leadership</tspan><tspan x="536" dy="12">&amp; Tactical</tspan><tspan x="536" dy="12">Capacity</tspan></text></g>
<g id="n-ansf-capacity"><text class="b" x="642" y="186"><tspan x="648">ANSF</tspan><tspan x="650" dy="11.5">Capacity,</tspan><tspan x="632" dy="11.5">Priorities &amp;</tspan><tspan x="638" dy="11.5">Effectiveness</tspan></text></g>
<g id="n-professionalism"><text class="b" x="607" y="247"><tspan x="607">ANSF Avg</tspan><tspan x="607" dy="12">Professionalism</tspan><tspan x="607" dy="12">Skill, Discipline,</tspan><tspan x="604" dy="12">&amp; Morale</tspan></text></g>
<g id="n-manpower"><text class="b" x="412" y="227"><tspan x="412">ANSF</tspan><tspan x="412" dy="12">Manpower</tspan><tspan x="412" dy="12">Recruiting &amp;</tspan><tspan x="412" dy="12">Retention</tspan></text></g>
<g id="n-training"><text class="b" x="508" y="307"><tspan x="508">ANSF</tspan><tspan x="508" dy="12">Training &amp;</tspan><tspan x="508" dy="12">Mentoring</tspan></text></g>
<g id="n-institutional"><text class="b" x="403" y="320"><tspan x="403">ANSF</tspan><tspan x="403" dy="12">Institutional &amp;</tspan><tspan x="403" dy="12">Execution</tspan><tspan x="403" dy="12">Capacity</tspan></text></g>
<g id="n-funding"><text class="b" x="435" y="423"><tspan x="435">ANSF</tspan><tspan x="435" dy="12">Funding</tspan><tspan x="435" dy="12">Adequacy</tspan></text></g>
<g id="n-corruption"><text class="b" x="580" y="357"><tspan x="580" style="fill:#c8c8f0">ANSF</tspan><tspan x="580" dy="12">Corruption &amp;</tspan><tspan x="580" dy="12">Tribal</tspan><tspan x="580" dy="12">Favoritism</tspan></text></g>
<g id="n-rol"><text class="b" x="689" y="384"><tspan x="689">R.O.L. Policy,</tspan><tspan x="689" dy="12.4">Execution &amp;</tspan><tspan x="689" dy="12.4">Perceived</tspan><tspan x="689" dy="12.4">Fairness</tspan></text></g>
<g id="n-appropriate"><text class="b" x="798" y="287"><tspan x="798">ANSF</tspan><tspan x="798" dy="12" style="fill:url(#fade)">Appropriate</tspan><tspan x="798" dy="12" style="fill:url(#fade)">Use of Force</tspan></text></g>
<g id="n-counter-narcotics"><text class="b" x="1706" y="113"><tspan x="1706">Counter Narcotics/</tspan><tspan x="1706" dy="12">Crime Ops</tspan></text></g>

<g id="n-coal-knowledge"><text class="g" x="125" y="187"><tspan x="125">Coalition</tspan><tspan x="125" dy="12">Knowledge</tspan><tspan x="125" dy="12">&amp; Underst</tspan><tspan x="125" dy="12">of Social</tspan><tspan x="125" dy="12">Structures</tspan></text></g>
<g id="n-coal-coin"><text class="g" x="250" y="206"><tspan x="250">Coalition</tspan><tspan x="250" dy="12">COIN</tspan><tspan x="250" dy="12">Support</tspan><tspan x="250" dy="12">Strategy &amp;</tspan><tspan x="250" dy="12">Unity</tspan></text></g>
<g id="n-duration-1"><text class="g" x="80" y="257"><tspan x="80">Duration of</tspan><tspan x="80" dy="12">Operation</tspan></text></g>
<g id="n-coal-balance"><text class="g" x="192" y="281"><tspan x="192">Coalition</tspan><tspan x="192" dy="12">Appropriate</tspan><tspan x="192" dy="12">Balance of</tspan><tspan x="192" dy="12">Effort &amp;</tspan><tspan x="192" dy="12">Force</tspan></text></g>
<g id="n-coal-adjust"><text class="g" x="325" y="260"><tspan x="325">Coalition</tspan><tspan x="325" dy="12">Adjustment</tspan><tspan x="325" dy="12">of Approach</tspan><tspan x="325" dy="12">to Fit Afghan</tspan></text></g>
<g id="n-coal-devops-ansf"><text class="g" x="336" y="351"><tspan x="336">Coalition</tspan><tspan x="336" dy="12">Dev. Ops-</tspan><tspan x="336" dy="12">ANSF</tspan><tspan x="336" dy="12">Advisory</tspan><tspan x="336" dy="12">&amp; Aid</tspan></text></g>
<g id="n-coal-avg"><text class="g" x="108" y="363"><tspan x="108">Coalition</tspan><tspan x="108" dy="12">Avg COIN</tspan><tspan x="108" dy="12">Experience</tspan><tspan x="108" dy="12">&amp; Skill</tspan></text></g>
<g id="n-coal-exec"><text class="g" x="190" y="371"><tspan x="190">Coalition</tspan><tspan x="190" dy="12">Execution</tspan><tspan x="190" dy="12">Capacity &amp;</tspan><tspan x="190" dy="12">Priorities</tspan></text></g>
<g id="n-coal-visibility"><text class="g" x="362" y="435"><tspan x="362">Coalition</tspan><tspan x="362" dy="12">Visibility to</tspan><tspan x="362" dy="12">Population</tspan></text></g>
<g id="n-coal-devops-gov"><text class="g" x="287" y="478"><tspan x="287">Coalition</tspan><tspan x="287" dy="12">Dev. Ops-</tspan><tspan x="287" dy="12">Gov't</tspan><tspan x="287" dy="12">Advisory</tspan><tspan x="287" dy="12">&amp; Aid</tspan></text></g>
<g id="n-coal-acceptance"><text class="g" x="378" y="491"><tspan x="378">Coalition/Homeland</tspan><tspan x="378" dy="12">Acceptance of</tspan><tspan x="378" dy="12">Afghan Methods</tspan></text></g>
<g id="n-usgov-support"><text class="g" x="93" y="588"><tspan x="93">US Gov't</tspan><tspan x="93" dy="12">Support for</tspan><tspan x="93" dy="12">Operation</tspan></text></g>
<g id="n-breadth"><text class="g" x="121" y="641"><tspan x="121">Breadth of</tspan><tspan x="121" dy="12">Coalition &amp;</tspan><tspan x="121" dy="12">Support</tspan></text></g>
<g id="n-us-domestic"><text class="g" x="39" y="657"><tspan x="39">US Domestic</tspan><tspan x="39" dy="12">Perceived</tspan><tspan x="39" dy="12">Cost/Benefit</tspan><tspan x="39" dy="12">&amp; Support</tspan></text></g>
<g id="n-gov-funding"><text class="g" x="269" y="612"><tspan x="269">Gov't</tspan><tspan x="269" dy="12">Funding</tspan><tspan x="269" dy="12">Adequacy</tspan></text></g>
<g id="n-central-gov"><text class="g" x="431" y="558"><tspan x="431">Central Gov't</tspan><tspan x="431" dy="12">Institutional &amp;</tspan><tspan x="431" dy="12">Execution</tspan><tspan x="431" dy="12">Capacity</tspan></text></g>
<g id="n-gov-training"><text class="g" x="343" y="651"><tspan x="343">Gov't Training</tspan><tspan x="343" dy="12">Mentoring,</tspan><tspan x="343" dy="12">Vetting, and</tspan><tspan x="343" dy="12">Hiring</tspan></text></g>
<g id="n-gov-workforce"><text class="g" x="437" y="671"><tspan x="437">Gov't</tspan><tspan x="437" dy="12">Workforce</tspan><tspan x="437" dy="12">Skill &amp; Avail</tspan></text></g>
<g id="n-us-intl"><text class="g" x="123" y="716"><tspan x="123">US Domestic/</tspan><tspan x="123" dy="12">Int'l Strategic</tspan><tspan x="123" dy="12">Commun.</tspan><tspan x="98" dy="12">&amp; D</tspan></text></g>
<g id="n-media"><text class="gs" x="97" y="779"><tspan x="97">M</tspan><tspan x="71" dy="12">Sensa</tspan><tspan x="101" dy="11">B</tspan></text></g>
<g id="n-transparency"><text class="g" x="293" y="715"><tspan x="293">Transparency</tspan><tspan x="293" dy="12">of Gov't</tspan><tspan x="293" dy="12">Processes &amp;</tspan><tspan x="293" dy="12">Investments</tspan></text></g>
<g id="n-gov-prof"><text class="g" x="397" y="727"><tspan x="397">Gov't</tspan><tspan x="397" dy="12">Professionalism</tspan><tspan x="397" dy="12">Policy Quality</tspan><tspan x="397" dy="12">&amp; Fairness</tspan></text></g>
<g id="n-gov-corruption"><text class="g" x="340" y="822"><tspan x="340">Gov't/</tspan><tspan x="340" dy="12">Contractor</tspan><tspan x="340" dy="12">Corruption &amp;</tspan><tspan x="340" dy="12">Tribal Favoritism</tspan></text></g>
<g id="n-infra-advisory"><text class="g" x="242" y="873"><tspan x="242">Infrastructure,</tspan><tspan x="242" dy="12">Services</tspan><tspan x="242" dy="12">Econ.</tspan><tspan x="242" dy="12">Advisory</tspan><tspan x="242" dy="12">&amp; Aid</tspan></text></g>
<g id="n-tax"><text class="g" x="433" y="896"><tspan x="433">Tax</tspan><tspan x="433" dy="12">Revenues</tspan></text></g>
<g id="n-gov-security-policy"><text class="g" x="532" y="436"><tspan x="532">Gov't</tspan><tspan x="532" dy="12">Security</tspan><tspan x="532" dy="12">Policy</tspan><tspan x="532" dy="12">Quality &amp;</tspan><tspan x="532" dy="12">Investment</tspan></text></g>
<g id="n-rel-msg-quality"><text class="g" x="793" y="462"><tspan x="793">Relative</tspan><tspan x="793" dy="12">Message</tspan><tspan x="793" dy="12">Quality</tspan><tspan x="793" dy="12">Gov't vs Ins.</tspan></text></g>
<g id="n-ins-strategic"><text class="g" x="842" y="372"><tspan x="842">Ins. Strategic</tspan><tspan x="842" dy="12">Commun/IO</tspan><tspan x="842" dy="12">&amp; Affiliation w/</tspan><tspan x="842" dy="12">Population</tspan></text></g>
<g id="n-rel-msg-impact"><text class="g" x="795" y="603"><tspan x="795">Relative</tspan><tspan x="795" dy="12">Message</tspan><tspan x="795" dy="12">Impact Gov't</tspan><tspan x="795" dy="12">vs Ins</tspan></text></g>
<g id="n-western"><text class="g" x="726" y="651"><tspan x="726">Western</tspan><tspan x="726" dy="12">Affiliation</tspan><tspan x="726" dy="12">Backlash</tspan></text></g>
<g id="n-gov-integration"><text class="g" x="564" y="632"><tspan x="564">Gov't</tspan><tspan x="564" dy="12">Integration of</tspan><tspan x="564" dy="12">Local Tribal</tspan><tspan x="564" dy="12">Structures</tspan></text></g>
<g id="n-govt-vs-ins"><text class="g" x="925" y="628">Gov't vs Ins</text></g>
<g id="n-perceived-damages-gov"><text class="g" x="963" y="426"><tspan x="963">Perceived</tspan><tspan x="963" dy="11.7">Damages/Use</tspan><tspan x="963" dy="11.7">of Force by</tspan><tspan x="963" dy="11.7">Gov t &amp; Coalition</tspan></text></g>
<g id="n-perceived-damages-ins"><text class="g" x="1081" y="358"><tspan x="1081">Perceived</tspan><tspan x="1081" dy="12">Damages &amp;</tspan><tspan x="1081" dy="12">Use of Force</tspan><tspan x="1081" dy="12">by Ins.</tspan></text></g>
<g id="n-ins-targeted"><text class="g" x="1197" y="387"><tspan x="1197">Ins. Targeted</tspan><tspan x="1197" dy="12">Attacks on</tspan><tspan x="1197" dy="12">Progress/</tspan><tspan x="1197" dy="12">Support</tspan><tspan x="1197" dy="12">for Gov't</tspan></text></g>
<g id="n-perception-ins"><text class="g" x="1095" y="466"><tspan x="1095">Perception of</tspan><tspan x="1095" dy="11.7">Insurgent</tspan><tspan x="1095" dy="11.7">Strength &amp;</tspan><tspan x="1104" dy="11.7">nt</tspan></text></g>
<g id="n-fear-ins"><text class="g" x="1137" y="587"><tspan x="1135">Fear of Ins.</tspan><tspan x="1135" dy="12">Attack/</tspan><tspan x="1140" dy="12">epercussions</tspan></text></g>
<g id="n-perception-gov"><text class="g" x="1162" y="697"><tspan x="1162">Perception</tspan><tspan x="1162" dy="11.5">Of Gov t</tspan><tspan x="1162" dy="11.5">Strength</tspan><tspan x="1162" dy="11.5">&amp; Intent</tspan></text></g>
<g id="n-perception-coalition"><text class="g" x="950" y="673"><tspan x="950">Perception of</tspan><tspan x="950" dy="12">Coalition Intent</tspan><tspan x="950" dy="12">&amp; Commitment</tspan></text></g>
<g id="n-stock-labels">
<text class="g" x="1248" y="538"><tspan x="1248">Population</tspan><tspan x="1248" dy="12">Actively</tspan><tspan x="1248" dy="12">Supporting</tspan><tspan x="1248" dy="12">Gov' t &amp; SF</tspan></text>
<text class="g" x="1363" y="545"><tspan x="1363">Population</tspan><tspan x="1363" dy="11.5">Sympathizing</tspan><tspan x="1363" dy="11.5">w/ Gov't</tspan></text>
<text class="g" x="1468" y="542"><tspan x="1468">Neutral/On</tspan><tspan x="1468" dy="12">the Fence</tspan></text>
<text class="g" x="1563" y="543"><tspan x="1563">Population</tspan><tspan x="1563" dy="12">Sympathizing</tspan><tspan x="1563" dy="12">w/ Insurgents</tspan></text>
<text class="g" x="1669" y="541"><tspan x="1669">Population</tspan><tspan x="1669" dy="12">Actively</tspan><tspan x="1669" dy="12">Supporting</tspan><tspan x="1669" dy="12">Insurgency</tspan></text>
</g>
<g id="n-relative-support"><text class="g" x="1478" y="428" style="font-size:12px"><tspan x="1478">Relative</tspan><tspan x="1478" dy="10.8">Popular</tspan><tspan x="1478" dy="10.8">Support/</tspan><tspan x="1478" dy="10.8">Tolerance</tspan><tspan x="1478" dy="10.8">Govt vs</tspan><tspan x="1478" dy="10.8">Insurgents</tspan></text></g>
<g id="n-ties"><text class="g" x="1453" y="356"><tspan x="1453">Ties to</tspan><tspan x="1453" dy="11.7">Narcotics &amp;</tspan><tspan x="1453" dy="11.7">Other Criminal</tspan><tspan x="1453" dy="11.7">Funding</tspan></text></g>
<g id="n-funding-material"><text class="g" x="1571" y="394"><tspan x="1571">Funding &amp;</tspan><tspan x="1571" dy="11">Material</tspan><tspan x="1571" dy="11">Support to</tspan><tspan x="1571" dy="11">Insurgents</tspan></text></g>
<g id="n-likelihood"><text class="g" x="1670" y="426"><tspan x="1670">Likelihood of</tspan><tspan x="1670" dy="12.3">Crime/Violence</tspan><tspan x="1670" dy="12.3">/Ins. Support</tspan><tspan x="1670" dy="12.3">for Payment</tspan></text></g>
<g id="n-narc-levels"><text class="g" x="1780" y="476"><tspan x="1780">Narcotics</tspan><tspan x="1780" dy="12">&amp; Criminal</tspan><tspan x="1780" dy="12">Activity</tspan><tspan x="1780" dy="12">Levels</tspan></text></g>
<g id="n-illegit"><text class="g" x="1755" y="576"><tspan x="1755">Illegit Agric</tspan><tspan x="1755" dy="11.8">Production,</tspan><tspan x="1755" dy="11.8">Trade &amp;</tspan><tspan x="1755" dy="11.8">Employment</tspan></text></g>
<g id="n-potential"><text class="g" x="1472" y="626"><tspan x="1472">Potential</tspan><tspan x="1472" dy="11.5">Attractiveness</tspan><tspan x="1472" dy="11.5">of Gov t vs.</tspan><tspan x="1472" dy="11.5">Insurgent Path</tspan></text></g>
<g id="n-terrain"><text class="g" x="1583" y="642"><tspan x="1583">Terrain</tspan><tspan x="1583" dy="11.5">Harshness</tspan><tspan x="1583" dy="11.5">&amp; Breadth</tspan></text></g>
<g id="n-duration-2"><text class="g" x="1839" y="653"><tspan x="1839">Duration</tspan><tspan x="1839" dy="12">of</tspan><tspan x="1839" dy="12">Operation</tspan></text></g>
<g id="n-fraction"><text class="g" x="1728" y="697"><tspan x="1728">Fraction of</tspan><tspan x="1728" dy="12.3">Workforce</tspan><tspan x="1728" dy="12.3">And Agric.</tspan><tspan x="1728" dy="12.3">Legit vs</tspan><tspan x="1728" dy="12.3">Illegit</tspan></text></g>
<g id="n-legit-agric"><text class="g" x="1612" y="749"><tspan x="1612">Legit Agric</tspan><tspan x="1612" dy="12">Production</tspan></text></g>
<g id="n-private-sector"><text class="g" x="1523" y="765"><tspan x="1523">Private Sector</tspan><tspan x="1523" dy="11.7">Workforce</tspan><tspan x="1523" dy="11.7">Skill &amp; Avail</tspan></text></g>
<g id="n-basic-needs"><text class="g" x="1689" y="802"><tspan x="1689">Population</tspan><tspan x="1689" dy="11.8">Basic Needs</tspan><tspan x="1689" dy="11.8">Service Levels</tspan><tspan x="1689" dy="11.8">&amp; Employment</tspan></text></g>
<g id="n-legit-vs-illegit"><text class="g" x="1753" y="858"><tspan x="1753">Legit vs. Illegit</tspan><tspan x="1753" dy="12">Relative</tspan><tspan x="1753" dy="12">Economic</tspan><tspan x="1753" dy="12">Opportunity</tspan></text></g>
<g id="n-legit-other"><text class="g" x="1472" y="862"><tspan x="1472">Legit Other</tspan><tspan x="1472" dy="12">Production</tspan><tspan x="1472" dy="12">&amp; Services</tspan><tspan x="1472" dy="12">Non-Agric</tspan></text></g>
<g id="n-civilian"><text class="g" x="1556" y="862"><tspan x="1556">Civilian</tspan><tspan x="1556" dy="12.2">Services</tspan><tspan x="1556" dy="12.2">(SWET,</tspan><tspan x="1556" dy="12.2">Healthcare,</tspan><tspan x="1556" dy="12.2">Education)</tspan></text></g>
<g id="n-economic"><text class="gs" x="1634" y="951"><tspan x="1634">Economic</tspan><tspan x="1634" dy="12">tivity,</tspan><tspan x="1634" dy="12">ade &amp;</tspan><tspan x="1634" dy="12">loyment</tspan></text></g>
<g id="n-ability"><text class="g" x="987" y="781"><tspan x="987">Ability to</tspan><tspan x="987" dy="11.9">Reconcile</tspan><tspan x="987" dy="11.9">Religious</tspan><tspan x="987" dy="11.9">Ideology,</tspan><tspan x="987" dy="11.9">Tribal</tspan><tspan x="987" dy="11.9">Structures</tspan><tspan x="987" dy="11.9">w/ Gov't</tspan><tspan x="987" dy="11.9">Path</tspan></text></g>
<g id="n-satisfaction"><text class="g" x="1176" y="773"><tspan x="1176">Satisfaction</tspan><tspan x="1176" dy="11.7">w/ Gains in</tspan><tspan x="1176" dy="11.7">Security, Services</tspan><tspan x="1176" dy="11.7">&amp; Employment</tspan></text></g>
<g id="n-visible-gains"><text class="g" x="1277" y="810"><tspan x="1277">Visible Gains</tspan><tspan x="1277" dy="12">In Security,</tspan><tspan x="1277" dy="12">Services &amp;</tspan><tspan x="1277" dy="12">Employment</tspan></text></g>
<g id="n-infra-dev"><text class="g" x="1378" y="784"><tspan x="1378">Infrastructure</tspan><tspan x="1378" dy="12">Dev. Adequacy</tspan><tspan x="1378" dy="12">&amp; Sustainment</tspan></text></g>
<g id="n-expectations"><text class="g" x="1144" y="859"><tspan x="1144">Expectations</tspan><tspan x="1144" dy="12">for Security,</tspan><tspan x="1144" dy="12">Services, &amp;</tspan><tspan x="1144" dy="12">Employment</tspan></text></g>
<g id="n-perceived-security"><text class="g" x="1027" y="903"><tspan x="1027">Perceived</tspan><tspan x="1027" dy="12">Security</tspan></text></g>
<g id="n-infr-policy"><text class="g" x="1078" y="975"><tspan x="1078">Infr, Services, Econ.</tspan><tspan x="1078" dy="12">Policy &amp; Execution</tspan><tspan x="1078" dy="12">/Perceived Fairness</tspan></text></g>
<g id="n-connectedness"><text class="g" x="918" y="886"><tspan x="918">Average</tspan><tspan x="918" dy="11.5">Connectedness</tspan><tspan x="918" dy="11.5">of Population</tspan></text></g>
<g id="n-religious"><text class="g" x="695" y="733"><tspan x="695">Strength of</tspan><tspan x="695" dy="12">Religious</tspan><tspan x="695" dy="12">Ideology &amp;</tspan><tspan x="695" dy="12">Tribal</tspan><tspan x="695" dy="12">Structures</tspan></text></g>
<g id="n-cultural"><text class="g" x="787" y="782"><tspan x="787">Cultural Erosion/</tspan><tspan x="787" dy="12">Displacement</tspan></text></g>
<g id="n-ethnic"><text class="g" x="722" y="832"><tspan x="722">Ethnic/Tribal</tspan><tspan x="722" dy="12.5">Rivalry</tspan></text></g>
<g id="n-beliefs"><text class="g" x="573" y="875">Beliefs</text></g>
<g id="n-humanitarian"><text class="g" x="728" y="998"><tspan x="728">Provide</tspan><tspan x="728" dy="12">Humanitarian</tspan><tspan x="728" dy="12">Relief</tspan></text></g>
<g id="n-overall-reach"><text class="g" x="490" y="728"><tspan x="490">Overall Gov't</tspan><tspan x="490" dy="12">Reach,</tspan><tspan x="490" dy="12">Execution</tspan><tspan x="490" dy="12">Capacity &amp;</tspan><tspan x="490" dy="12">Investment</tspan></text></g>
<g id="n-ins-damages"><text class="g" x="970" y="145"><tspan x="970">Ins. Damages</tspan><tspan x="970" dy="11.7">&amp; Casualties</tspan></text></g>
<g id="n-fear-gov"><text class="g" x="1067" y="149"><tspan x="1067">Fear of</tspan><tspan x="1067" dy="12">Gov' t/ANSF/</tspan><tspan x="1067" dy="12">Coalition</tspan><tspan x="1067" dy="12">Repercussions</tspan></text></g>
<g id="n-territory"><text class="g" x="1020" y="264"><tspan x="1020">Territory Not</tspan><tspan x="1020" dy="11.7">Under Gov't</tspan><tspan x="1020" dy="11.7">Control (Afghan</tspan><tspan x="1020" dy="11.7">&amp; Pakistan)</tspan></text></g>
<g id="n-ins-offensives"><text class="g" x="1151" y="242"><tspan x="1151">Ins.</tspan><tspan x="1151" dy="12">Offensives &amp;</tspan><tspan x="1151" dy="12">Presence</tspan><tspan x="1151" dy="12">(Clear &amp; Hold)</tspan></text></g>
<g id="n-havens"><text class="g" x="1380" y="203"><tspan x="1380">Havens / Ability to</tspan><tspan x="1380" dy="11.5">Operate</tspan></text></g>
<g id="n-coordination"><text class="g" x="1280" y="243"><tspan x="1280">Coordination</tspan><tspan x="1280" dy="11.7">Among Ins.</tspan><tspan x="1280" dy="11.7">Factions</tspan></text></g>
<g id="n-ins-capacity"><text class="g" x="1315" y="336"><tspan x="1315">Insurgent</tspan><tspan x="1315" dy="12">Capacity,</tspan><tspan x="1315" dy="12">Priorities &amp;</tspan><tspan x="1315" dy="12">Effectiveness</tspan></text></g>
<g id="n-ins-provision"><text class="g" x="1153" y="326"><tspan x="1153">Ins. Provision</tspan><tspan x="1153" dy="11.7">Of Gov't &amp;</tspan><tspan x="1153" dy="11.7">Services</tspan></text></g>
<g id="n-outside-enablement"><text class="g" x="1491" y="193"><tspan x="1491">Outside</tspan><tspan x="1491" dy="12">Support/</tspan><tspan x="1491" dy="12">Enablement</tspan><tspan x="1491" dy="12">of Ins.</tspan></text></g>
<g id="n-ins-leadership"><text class="g" x="1413" y="270"><tspan x="1413">Ins.</tspan><tspan x="1413" dy="12">Leadership,</tspan><tspan x="1413" dy="12">Training, Skill</tspan><tspan x="1413" dy="12">&amp; Experience</tspan></text></g>
<g id="n-ins-recruiting"><text class="g" x="1643" y="275"><tspan x="1643">Insurgent</tspan><tspan x="1643" dy="11.5">Recruiting,</tspan><tspan x="1643" dy="11.5">Retention,</tspan><tspan x="1643" dy="11.5">Manpower</tspan><tspan x="1643" dy="11.5">&amp; ISR</tspan></text></g>
<g id="n-criminal"><text class="g" x="1720" y="311"><tspan x="1720">Criminal/</tspan><tspan x="1720" dy="12">Trafficking</tspan><tspan x="1720" dy="12">Capability &amp;</tspan><tspan x="1720" dy="12">Coercion</tspan></text></g>
<g id="n-terrain-adv"><text class="g" x="1782" y="256"><tspan x="1782">Insurgent</tspan><tspan x="1782" dy="11.7">Terrain</tspan><tspan x="1782" dy="11.7">Advantage</tspan></text></g>

<g id="t-coalition-capacity"><rect class="box" x="45" y="418" width="218" height="118"/><text class="tg" x="52" y="447">COALITION</text><text class="tg" x="52" y="482">CAPACITY &amp;</text><text class="tg" x="52" y="517">PRIORITIES</text></g>
<g id="t-overall-gov"><rect class="box" x="480" y="505" width="267" height="119"/><text class="tg" x="491" y="545">OVERALL</text><text class="tg" x="491" y="582">GOVERNMENT</text><text class="tg" x="491" y="617">CAPACITY</text></g>
<g id="t-population"><rect class="box" x="845" y="490" width="254" height="128"/><text class="tg" x="853" y="535">POPULATION</text><text class="tg" x="853" y="572">CONDITIONS</text><text class="tg" x="853" y="607">&amp; BELIEFS</text></g>
<g id="t-popular-support"><rect class="box" x="1216" y="605" width="184" height="77"/><text class="tg" x="1226" y="637">POPULAR</text><text class="tg" x="1226" y="672">SUPPORT</text></g>
<g id="t-outside-support"><rect class="box" x="1186" y="57" width="333" height="109"/><text class="tg" x="1189" y="88">OUTSIDE SUPPORT</text><text class="tg" x="1189" y="123">TO INSURGENT</text><text class="tg" x="1189" y="158">FACTIONS</text></g>
<g id="t-insurgents"><rect class="box" x="1407" y="308" width="219" height="42"/><text class="tg" x="1413" y="340" style="font-size:32px">INSURGENTS</text></g>
<g id="t-narcotics"><rect class="box" x="1667" y="372" width="201" height="39"/><text class="tg" x="1673" y="403" style="font-size:32px">NARCOTICS</text></g>
<g id="t-coalition-domestic"><rect class="box" x="108" y="748" width="181" height="109"/><text class="tg" x="113" y="775" style="font-size:31px">COALITION</text><text class="tg" x="113" y="809" style="font-size:31px">DOMESTIC</text><text class="tg" x="113" y="842" style="font-size:31px">SUPPORT</text></g>
<g id="t-tribal"><rect class="box" x="431" y="788" width="256" height="83"/><text class="tg" x="438" y="823">TRIBAL</text><text class="tg" x="438" y="860">GOVERNANCE</text></g>
<g id="t-infrastructure"><rect class="box" x="1300" y="913" width="333" height="130"/><text class="tg" x="1305" y="948">INFRASTRUCTURE,</text><text class="tg" x="1305" y="983">SERVICES &amp;</text><text class="tg" x="1305" y="1020">ECONOMY</text></g>
</svg>
